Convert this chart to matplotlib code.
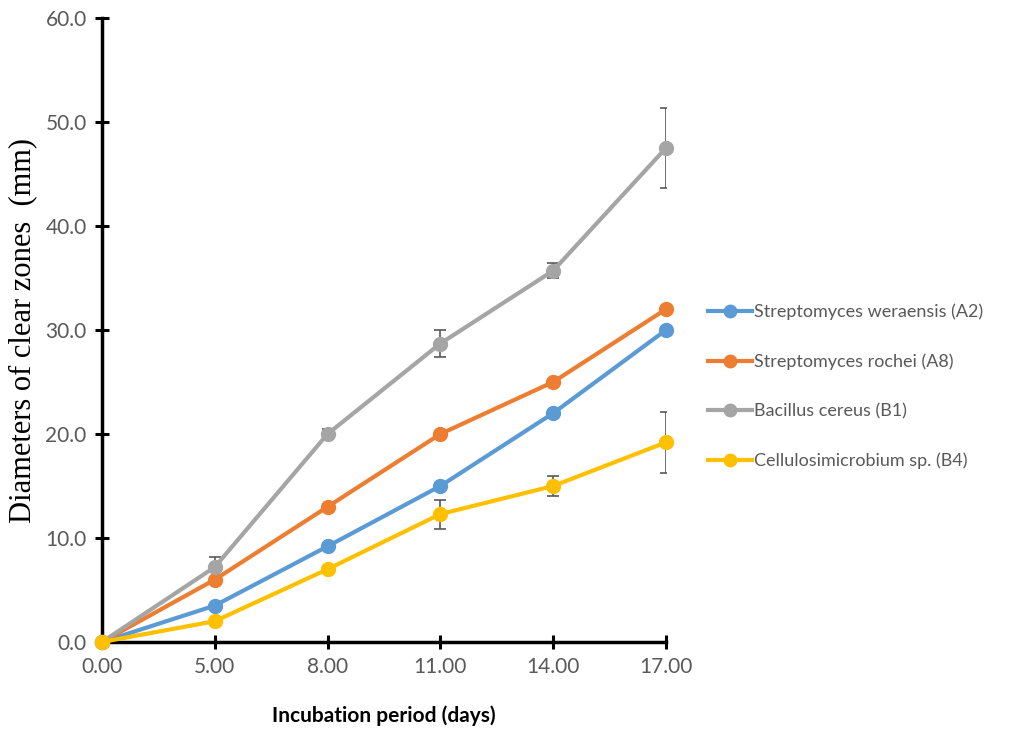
import matplotlib
matplotlib.use("Agg")
import matplotlib.pyplot as plt

days = ["0.00", "5.00", "8.00", "11.00", "14.00", "17.00"]

weraensis = [0.0, 3.5, 9.2, 15.0, 22.0, 30.0]
weraensis_err = [0.0, 0.2, 0.3, 0.3, 0.3, 0.3]
rochei = [0.0, 6.0, 13.0, 20.0, 25.0, 32.0]
rochei_err = [0.0, 0.2, 0.3, 0.3, 0.3, 0.3]
cereus = [0.0, 7.2, 20.0, 28.7, 35.7, 47.5]
cereus_err = [0.0, 1.0, 0.5, 1.3, 0.7, 3.8]
cellulo = [0.0, 2.0, 7.0, 12.3, 15.0, 19.2]
cellulo_err = [0.0, 0.2, 0.3, 1.4, 1.0, 2.9]

labels = ["Streptomyces weraensis (A2)", "Streptomyces rochei (A8)",
          "Bacillus cereus (B1)", "Cellulosimicrobium sp. (B4)"]
colors = ["#5b9bd5", "#ed7d31", "#a5a5a5", "#ffc000"]
series = [weraensis, rochei, cereus, cellulo]
errors = [weraensis_err, rochei_err, cereus_err, cellulo_err]

plt.rcParams["font.family"] = ["Lato", "DejaVu Sans"]

fig = plt.figure(figsize=(10.09, 7.29), dpi=100)
ax = fig.add_axes([0.101, 0.1193, 0.559, 0.856])

x = list(range(len(days)))
for vals, err, col, lab in zip(series, errors, colors, labels):
    ax.errorbar(x, vals, yerr=err, fmt="none", ecolor="#595959",
                elinewidth=1.2, capsize=4, capthick=1.2, zorder=2)
    ax.plot(x, vals, color=col, lw=3, marker="o", markersize=10,
            label=lab, zorder=3, clip_on=False)

ax.set_xlim(0, 5)
ax.set_ylim(0, 60)
ax.set_xticks(x)
ax.set_xticklabels(days)
ax.set_yticks(range(0, 61, 10))
ax.set_yticklabels(["%.1f" % v for v in range(0, 61, 10)])

for s in ["top", "right"]:
    ax.spines[s].set_visible(False)
for s in ["left", "bottom"]:
    ax.spines[s].set_linewidth(2.5)
ax.tick_params(direction="inout", length=10, width=2.2,
               labelsize=15, labelcolor="#595959", pad=6)

ax.set_ylabel("Diameters of clear zones  (mm)", family="Liberation Serif",
              fontsize=22, color="black", labelpad=6)
ax.set_xlabel("Incubation period (days)", fontsize=15, fontweight="bold",
              labelpad=20)

fig.legend(loc="center left", bbox_to_anchor=(0.686, 0.47), frameon=False,
           fontsize=13, labelcolor="#595959", handlelength=2.4,
           handletextpad=0.15, labelspacing=1.85, markerscale=0.9)

fig.savefig("out.png", dpi=100)
